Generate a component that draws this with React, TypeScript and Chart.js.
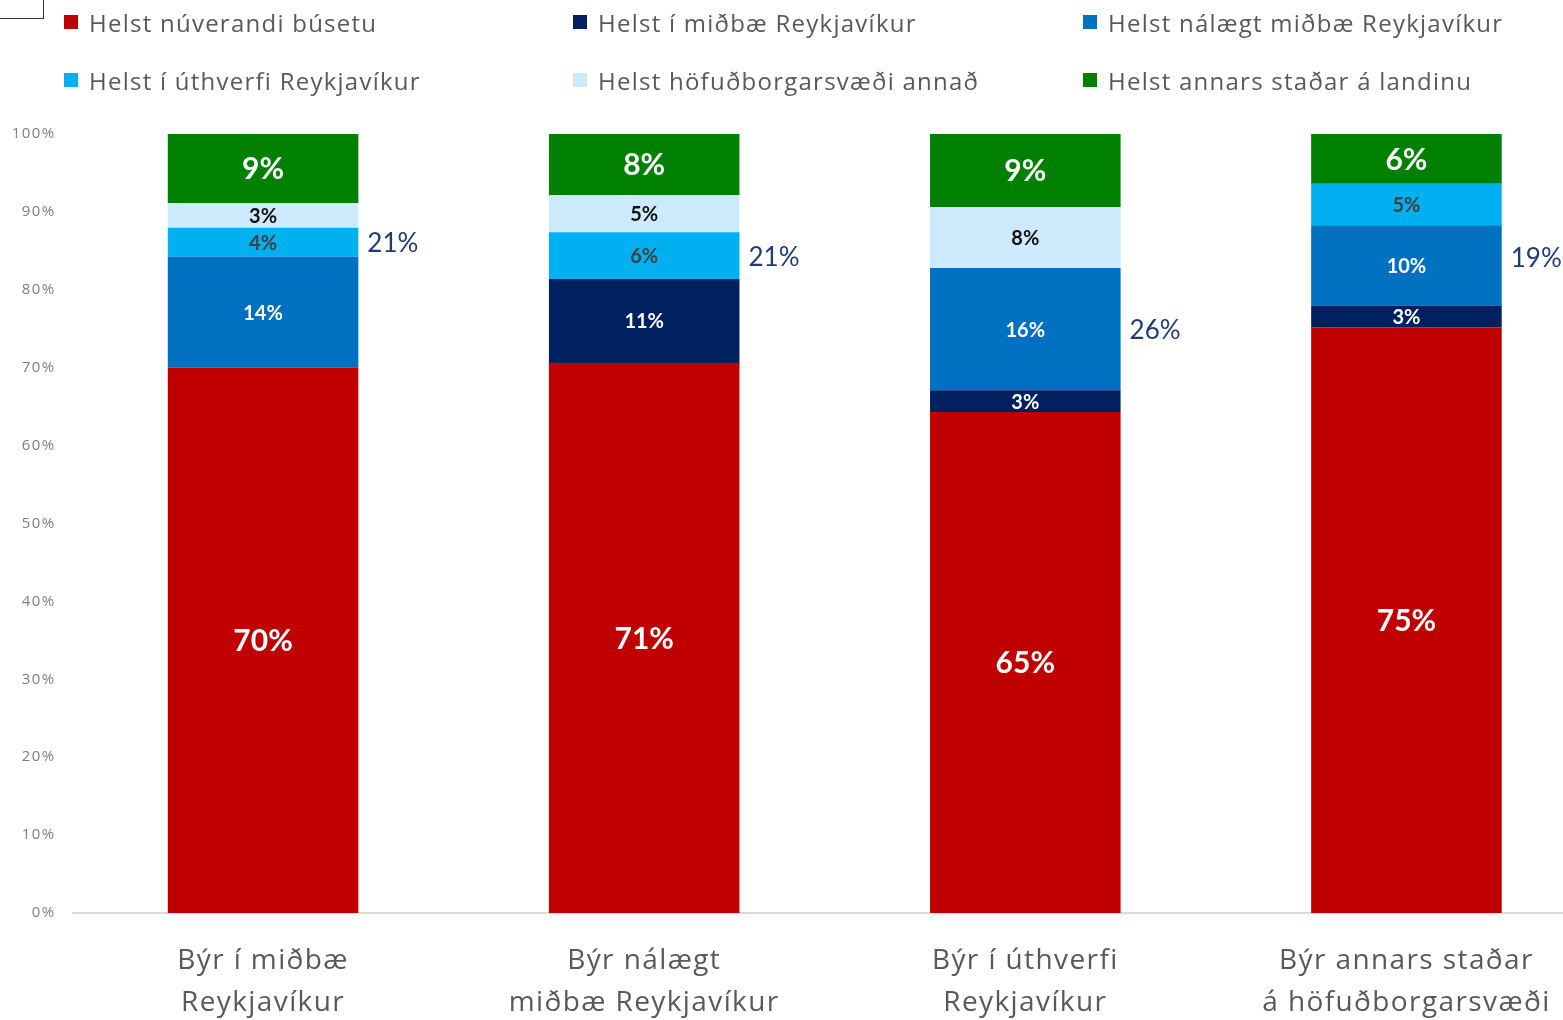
import React, { useEffect, useRef } from 'react';
import { Chart, registerables } from 'chart.js';

Chart.register(...registerables);

const FONT = 'Lato, "Open Sans", sans-serif';
const TEXT_FONT = '"Open Sans", Lato, sans-serif';

const categories: string[][] = [
  ['Býr í miðbæ', 'Reykjavíkur'],
  ['Býr nálægt', 'miðbæ Reykjavíkur'],
  ['Býr í úthverfi', 'Reykjavíkur'],
  ['Býr annars staðar', 'á höfuðborgarsvæði'],
];

const seriesNames = [
  'Helst núverandi búsetu',
  'Helst í miðbæ Reykjavíkur',
  'Helst nálægt miðbæ Reykjavíkur',
  'Helst í úthverfi Reykjavíkur',
  'Helst höfuðborgarsvæði annað',
  'Helst annars staðar á landinu',
];

const seriesColors = ['#c00000', '#002060', '#0070c0', '#00b0f0', '#cdeafc', '#008000'];

// values (share of bar, %)
const currentHome = [70, 70.6, 64.3, 75.2];
const downtown = [null, 10.8, 2.8, 2.8];
const nearDowntown = [14.25, null, 15.7, 10.3];
const suburbs = [3.7, 6.0, null, 5.3];
const capitalOther = [3.2, 4.75, 7.8, null];
const elsewhere = [8.85, 7.85, 9.4, 6.4];

// printed labels
const currentHomeLabels = ['70%', '71%', '65%', '75%'];
const downtownLabels = ['', '11%', '3%', '3%'];
const nearDowntownLabels = ['14%', '', '16%', '10%'];
const suburbsLabels = ['4%', '6%', '', '5%'];
const capitalOtherLabels = ['3%', '5%', '8%', ''];
const elsewhereLabels = ['9%', '8%', '9%', '6%'];

// totals beside bars
const sideLabels = ['21%', '21%', '26%', '19%'];
const sideLabelAt = [85.9, 84.1, 74.8, 84.0];

const seriesValues = [currentHome, downtown, nearDowntown, suburbs, capitalOther, elsewhere];
const seriesLabels = [currentHomeLabels, downtownLabels, nearDowntownLabels, suburbsLabels, capitalOtherLabels, elsewhereLabels];

const labelStyles = [
  { color: '#ffffff', size: 30 },
  { color: '#ffffff', size: 20 },
  { color: '#ffffff', size: 20 },
  { color: '#404040', size: 20 },
  { color: '#111111', size: 20 },
  { color: '#ffffff', size: 30 },
];

const spacingPlugin = {
  id: 'spacing',
  beforeDraw(chart: any) {
    chart.ctx.letterSpacing = '1.4px';
  },
  afterDraw(chart: any) {
    chart.ctx.letterSpacing = '0px';
  },
};

const segLabelPlugin = {
  id: 'segLabels',
  afterDatasetsDraw(chart: any) {
    const ctx = chart.ctx;
    ctx.save();
    ctx.letterSpacing = '0px';
    ctx.textAlign = 'center';
    ctx.textBaseline = 'middle';
    chart.data.datasets.forEach((ds: any, i: number) => {
      const meta = chart.getDatasetMeta(i);
      const st = labelStyles[i];
      ctx.fillStyle = st.color;
      ctx.font = `bold ${st.size}px ${FONT}`;
      meta.data.forEach((bar: any, j: number) => {
        const v = ds.data[j];
        const txt = seriesLabels[i][j];
        if (v == null || !txt) return;
        const p = bar.getProps(['x', 'y', 'base'], true);
        ctx.fillText(txt, p.x, (p.y + p.base) / 2 + 1);
      });
    });
    const meta0 = chart.getDatasetMeta(0);
    ctx.textAlign = 'left';
    ctx.fillStyle = '#203a78';
    ctx.font = `26px ${FONT}`;
    meta0.data.forEach((bar: any, j: number) => {
      const p = bar.getProps(['x', 'width'], true);
      const y = chart.scales.y.getPixelForValue(sideLabelAt[j]);
      ctx.fillText(sideLabels[j], p.x + p.width / 2 + 9, y);
    });
    ctx.restore();
  },
};

export default function App() {
  const ref = useRef<HTMLCanvasElement | null>(null);

  useEffect(() => {
    document.documentElement.style.overflow = 'hidden';
    document.body.style.overflow = 'hidden';
    if (!ref.current) return;
    const chart = new Chart(ref.current, {
      type: 'bar',
      data: {
        labels: categories,
        datasets: seriesNames.map((name, i) => ({
          label: name,
          data: seriesValues[i] as any,
          backgroundColor: seriesColors[i],
          borderWidth: 0,
          categoryPercentage: 1,
          barPercentage: 0.5,
        })),
      },
      options: {
        animation: false,
        responsive: false,
        maintainAspectRatio: false,
        layout: { padding: { top: 134, left: 0, right: 0, bottom: 0 } },
        plugins: { legend: { display: false }, tooltip: { enabled: false } },
        scales: {
          x: {
            stacked: true,
            grid: { display: false, drawTicks: false },
            border: { display: true, color: '#d9d9d9', width: 2 },
            ticks: {
              font: { family: TEXT_FONT, size: 28, lineHeight: 1.5 },
              color: '#595959',
              padding: 27,
              maxRotation: 0,
              autoSkip: false,
            },
            afterFit: (s: any) => { s.height = 107; },
          },
          y: {
            stacked: true,
            min: 0,
            max: 100,
            grid: { display: false, drawTicks: false },
            border: { display: false },
            ticks: {
              stepSize: 10,
              callback: (v: any) => v + '%',
              font: { family: TEXT_FONT, size: 15 },
              color: '#7f7f7f',
              padding: 17,
            },
            afterFit: (s: any) => { s.width = 72.5; },
          },
        },
      },
      plugins: [spacingPlugin, segLabelPlugin],
    } as any);
    return () => chart.destroy();
  }, []);

  const legendPos = [
    { x: 64, y: 22 }, { x: 573, y: 22 }, { x: 1083, y: 22 },
    { x: 64, y: 80 }, { x: 573, y: 80 }, { x: 1083, y: 80 },
  ];

  return (
    <div style={{ position: 'fixed', left: 0, top: 0, width: 1597, height: 1020, background: '#fff', fontFamily: TEXT_FONT }}>
      <canvas ref={ref} width={1597} height={1020} style={{ position: 'absolute', left: 0, top: 0 }} />
      <div style={{ position: 'absolute', left: 0, top: 0, width: 43, height: 18, borderRight: '1.5px solid #333', borderBottom: '1.5px solid #333' }} />
      {seriesNames.map((name, i) => (
        <div key={name} style={{ position: 'absolute', left: legendPos[i].x, top: legendPos[i].y - 17, height: 34, display: 'flex', alignItems: 'center', whiteSpace: 'nowrap' }}>
          <span style={{ width: 14, height: 14, background: seriesColors[i], display: 'inline-block', marginRight: 11 }} />
          <span style={{ fontSize: 24, letterSpacing: '1.25px', color: '#595959' }}>{name}</span>
        </div>
      ))}
    </div>
  );
}
